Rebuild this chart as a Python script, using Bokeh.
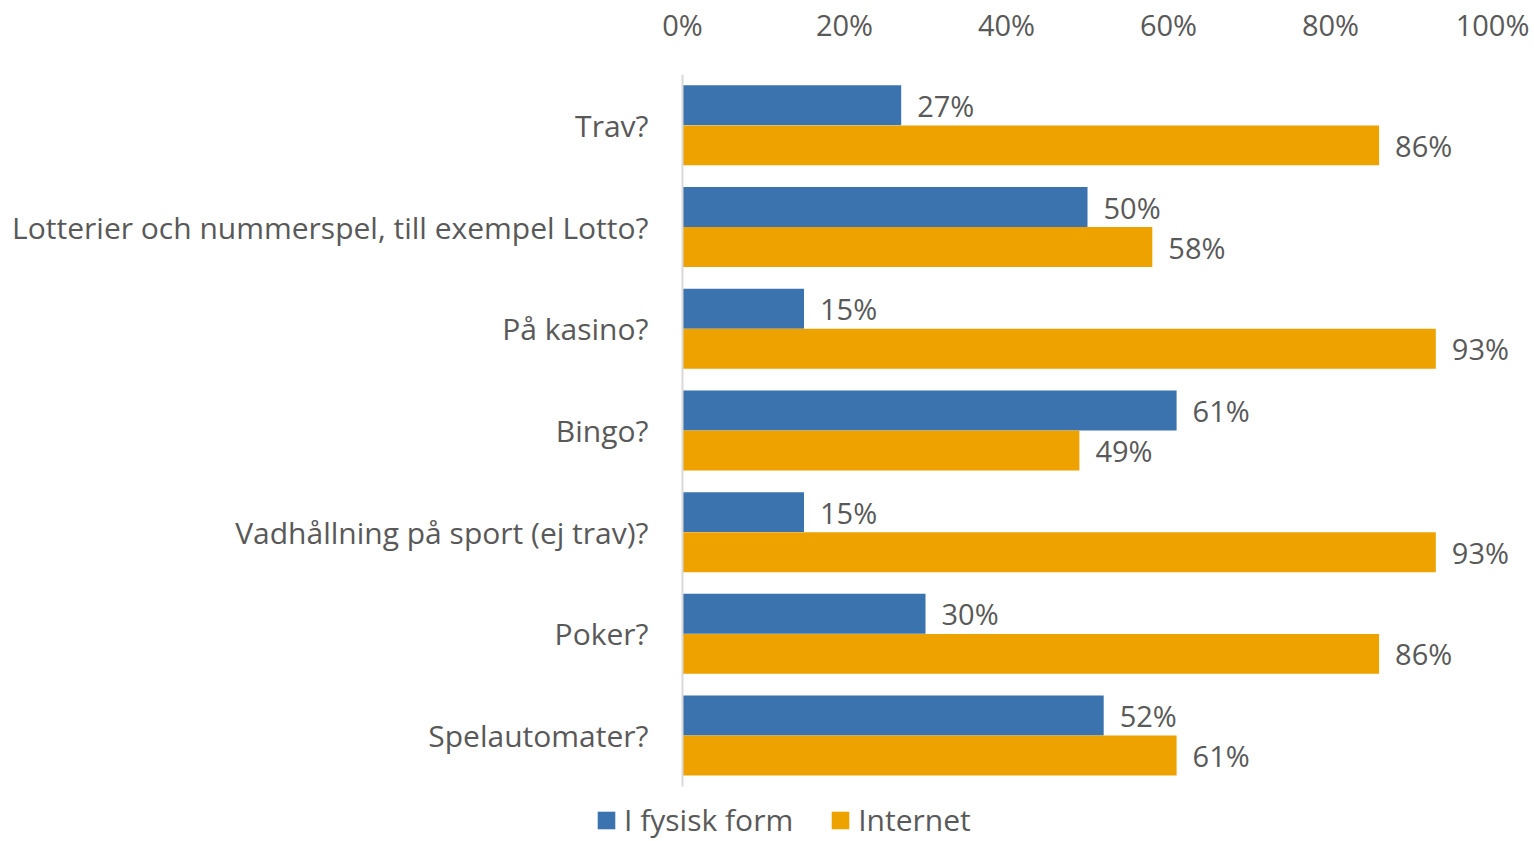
from bokeh.plotting import figure
from bokeh.models import (Range1d, FixedTicker, ColumnDataSource, Legend, LegendItem, LabelSet)
from bokeh.core.properties import value
from bokeh.embed import file_html
from bokeh.resources import INLINE

categories = ["Trav?", "Lotterier och nummerspel, till exempel Lotto?", "På kasino?", "Bingo?",
              "Vadhållning på sport (ej trav)?", "Poker?", "Spelautomater?"]
fysisk = [27, 50, 15, 61, 15, 30, 52]
internet = [86, 58, 93, 49, 93, 86, 61]
series_names = ["I fysisk form", "Internet"]
x_ticks = [0, 20, 40, 60, 80, 100]
x_tick_labels = ["0%", "20%", "40%", "60%", "80%", "100%"]

BLUE = "#3B73AF"
ORANGE = "#EDA200"
TXT = "#595959"
FONT = "Open Sans"
FS = "30px"
FS_NUM = "29px"
FS_LEG = "30px"

W, H = 1532, 841
TOP = 74
PX_PER_PCT = 8.1
ZERO_X = 682          # pixel of 0% inside the figure
ROW = 101.7           # pixels per category row
p = figure(width=W, height=H, output_backend="svg", toolbar_location=None,
           x_range=Range1d(-ZERO_X / PX_PER_PCT, (W - ZERO_X) / PX_PER_PCT),
           y_range=Range1d(-0.5 + (H - TOP) / ROW, -0.5),
           x_axis_location="above", y_axis_location=None,
           min_border_left=0, min_border_right=0,
           min_border_top=TOP, min_border_bottom=0)
p.outline_line_color = None
p.xgrid.visible = False
p.ygrid.visible = False
p.background_fill_color = None
p.border_fill_color = "white"

off = 0.197
hh = 0.393
idx = list(range(len(categories)))
src1 = ColumnDataSource(dict(y=[i - off for i in idx], v=fysisk, t=[f"{v}%" for v in fysisk]))
src2 = ColumnDataSource(dict(y=[i + off for i in idx], v=internet, t=[f"{v}%" for v in internet]))
src_cat = ColumnDataSource(dict(y=idx, x=[0] * len(idx), t=categories))

r1 = p.hbar(y="y", left=0, right="v", height=hh, source=src1, fill_color=BLUE, line_color=None)
r2 = p.hbar(y="y", left=0, right="v", height=hh, source=src2, fill_color=ORANGE, line_color=None)

p.segment(x0=[0], y0=[-0.5], x1=[0], y1=[len(categories) - 0.5], line_color="#D9D9D9", line_width=2)

for s in (src1, src2):
    p.add_layout(LabelSet(x="v", y="y", text="t", source=s, x_offset=16, text_baseline="middle",
                          text_align="left", text_font=value(FONT), text_font_size=value(FS_NUM),
                          text_color=TXT))

p.add_layout(LabelSet(x="x", y="y", text="t", source=src_cat, x_offset=-34, text_baseline="middle",
                      text_align="right", text_font=value(FONT), text_font_size=value(FS),
                      text_color=TXT))

xa = p.xaxis[0]
xa.ticker = FixedTicker(ticks=x_ticks)
xa.major_label_overrides = {t: l for t, l in zip(x_ticks, x_tick_labels)}
xa.axis_line_color = None
xa.major_tick_line_color = None
xa.minor_tick_line_color = None
xa.major_label_text_font = FONT
xa.major_label_text_font_size = FS_NUM
xa.major_label_text_color = TXT
xa.major_label_standoff = 25

legend = Legend(items=[LegendItem(label=series_names[0], renderers=[r1]),
                       LegendItem(label=series_names[1], renderers=[r2])],
                orientation="horizontal", location=(595, 1),
                glyph_width=22, glyph_height=22, label_standoff=7, spacing=36,
                padding=0, margin=0, border_line_color=None, background_fill_alpha=0,
                label_text_font=FONT, label_text_font_size=FS_LEG, label_text_color=TXT)
p.add_layout(legend)

open("out.html", "w").write(file_html(p, INLINE))
